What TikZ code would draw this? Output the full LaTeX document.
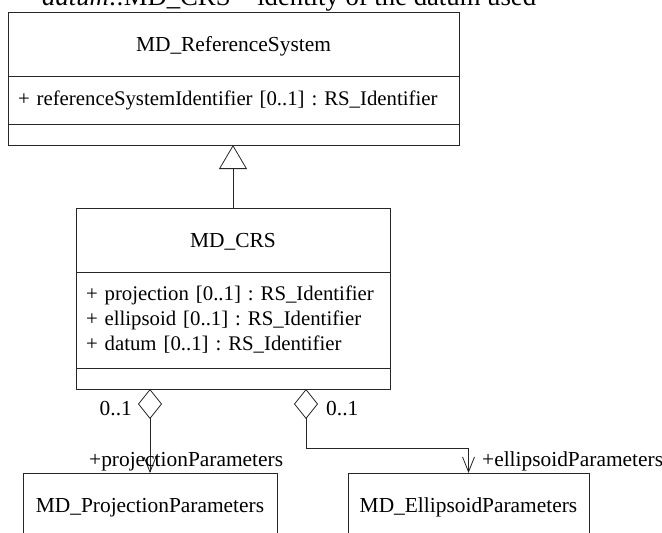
\documentclass[tikz,border=0pt]{standalone}
\usepackage{fontspec}
\setmainfont{Liberation Serif}
\usetikzlibrary{arrows.meta,positioning,calc}
\frenchspacing

\begin{document}
\begin{tikzpicture}[
    x=1pt, y=-1pt,
    box/.style={draw=black!85, line width=0.8pt, rectangle, inner sep=0pt, outer sep=0pt,
        font=\fontsize{21.4}{25}\selectfont},
    class_name/.style={box, minimum height=64pt, text height=14pt, text depth=0pt},
    class_attr/.style={box, align=left, inner xsep=10pt,
        font=\fontsize{20.8}{25}\selectfont},
    class_ops/.style={box, minimum height=21pt},
    generalization/.style={draw=black!85, line width=0.8pt,
        -{Triangle[open, length=24pt, width=28pt]}},
    aggregation/.style={draw=black!85, line width=0.8pt,
        {Diamond[open, length=30pt, width=24pt]}-{Straight Barb[length=15pt, width=12pt]}},
    label_style/.style={font=\fontsize{21.4}{25}\selectfont, inner sep=0pt},
    note_style/.style={font=\fontsize{26.7}{30}\selectfont, inner sep=0pt}
]

% Fix the frame (the note on top is cut off)
\path[use as bounding box, clip] (0,0) rectangle (662,533);

% Note text
\node[note_style, anchor=base west] (note) at (42,5) {\textit{datum}::MD\_CRS -- identity of the datum used};

% MD_ReferenceSystem
\node[class_name, minimum width=451pt] (ref_name) at (233.5,44) {MD\_ReferenceSystem};
\node[class_attr, minimum height=48pt, text width=431pt, below=0pt of ref_name] (ref_attr) {+ referenceSystemIdentifier [0..1] : RS\_Identifier};
\node[class_ops, minimum width=451pt, below=0pt of ref_attr] (ref_ops) {};

% MD_CRS
\node[class_name, minimum width=314pt] (crs_name) at (233,240) {MD\_CRS};
\node[class_attr, minimum height=96pt, text width=294pt, below=0pt of crs_name] (crs_attr) {+ projection [0..1] : RS\_Identifier\\
+ ellipsoid [0..1] : RS\_Identifier\\
+ datum [0..1] : RS\_Identifier};
\node[class_ops, minimum width=314pt, below=0pt of crs_attr] (crs_ops) {};

% Parameter classes
\node[class_name, minimum width=254pt] (proj_name) at (150,505) {MD\_ProjectionParameters};
\node[class_name, minimum width=241pt] (ell_name) at (468.5,505) {MD\_EllipsoidParameters};

% Generalization
\draw[generalization] (crs_name.north) -- (crs_name.north |- ref_ops.south);

% Aggregations
\coordinate (proj_start) at (proj_name.north |- crs_ops.south);
\coordinate (ell_start) at ($(crs_ops.south west)!0.7325!(crs_ops.south east)$);
\draw[aggregation] (proj_start) -- (proj_name.north);
\draw[aggregation] (ell_start) |- ([yshift=25pt]ell_name.north) -- (ell_name.north);

% Role names and multiplicities
\node[label_style, anchor=base east] (proj_mult) at ([xshift=-18pt, yshift=-26pt]proj_start) {0..1};
\node[label_style, anchor=base west] (ell_mult) at ([xshift=20pt, yshift=-26pt]ell_start) {0..1};
\node[label_style, anchor=base west] (proj_role) at ([xshift=-61pt, yshift=7pt]proj_name.north) {+projectionParameters};
\node[label_style, anchor=base west] (ell_role) at ([xshift=13.5pt, yshift=7pt]ell_name.north) {+ellipsoidParameters};

\end{tikzpicture}
\end{document}
